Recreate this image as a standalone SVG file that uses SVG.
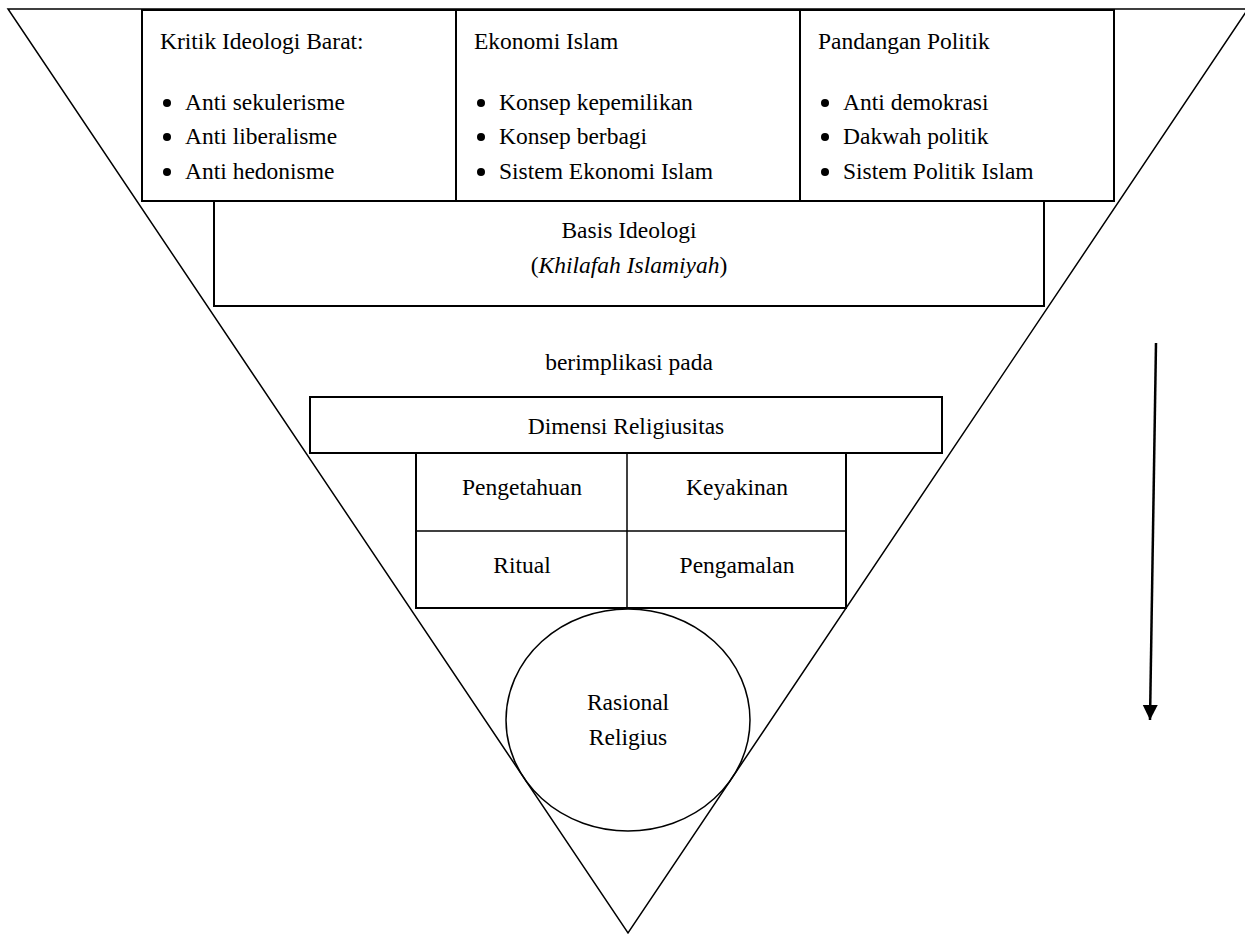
<svg xmlns="http://www.w3.org/2000/svg" width="1245" height="936" viewBox="0 0 1245 936">
<style>
text{font-family:"Liberation Serif","Times New Roman",serif;font-size:23.5px;fill:#000}
.c{text-anchor:middle}
.b{fill:#fff;stroke:#000;stroke-width:2}
.l{fill:none;stroke:#000;stroke-width:1.5}
.d{fill:#000}
</style>
<defs>
<marker id="ah" markerWidth="16" markerHeight="16" refX="15" refY="7.5" orient="auto" markerUnits="userSpaceOnUse" viewBox="0 0 16 16">
<path d="M0,0 L15,7.5 L0,15 Z" fill="#000"/>
</marker>
</defs>
<rect width="1245" height="936" fill="#fff"/>
<g id="triangle">
<polygon points="8,9 1248,9 628,933" class="l"/>
</g>
<g id="kritik">
<rect x="142" y="10" width="314" height="191" class="b"/>
<text x="160" y="49">Kritik Ideologi Barat:</text>
<circle cx="167" cy="103" r="4" class="d"/>
<circle cx="167" cy="137" r="4" class="d"/>
<circle cx="167" cy="172" r="4" class="d"/>
<text x="185" y="110">Anti sekulerisme</text>
<text x="185" y="144">Anti liberalisme</text>
<text x="185" y="179">Anti hedonisme</text>
</g>
<g id="ekonomi">
<rect x="456" y="10" width="344" height="191" class="b"/>
<text x="474" y="49">Ekonomi Islam</text>
<circle cx="481" cy="103" r="4" class="d"/>
<circle cx="481" cy="137" r="4" class="d"/>
<circle cx="481" cy="172" r="4" class="d"/>
<text x="499" y="110">Konsep kepemilikan</text>
<text x="499" y="144">Konsep berbagi</text>
<text x="499" y="179">Sistem Ekonomi Islam</text>
</g>
<g id="politik">
<rect x="800" y="10" width="314" height="191" class="b"/>
<text x="818" y="49">Pandangan Politik</text>
<circle cx="825" cy="103" r="4" class="d"/>
<circle cx="825" cy="137" r="4" class="d"/>
<circle cx="825" cy="172" r="4" class="d"/>
<text x="843" y="110">Anti demokrasi</text>
<text x="843" y="144">Dakwah politik</text>
<text x="843" y="179">Sistem Politik Islam</text>
</g>
<g id="basis">
<rect x="214" y="201" width="830" height="105" class="b"/>
<text x="629" y="238" class="c">Basis Ideologi</text>
<text x="629" y="273" class="c">(<tspan font-style="italic">Khilafah Islamiyah</tspan>)</text>
</g>
<g id="implikasi">
<text x="629" y="370" class="c">berimplikasi pada</text>
</g>
<g id="dimensi">
<rect x="310" y="397" width="632" height="56" class="b"/>
<text x="626" y="434" class="c">Dimensi Religiusitas</text>
</g>
<g id="grid">
<rect x="416" y="453" width="430" height="155" class="b"/>
<line x1="627" y1="453" x2="627" y2="608" class="l" stroke-width="2"/>
<line x1="416" y1="531" x2="846" y2="531" class="l" stroke-width="2"/>
<text x="522" y="495" class="c">Pengetahuan</text>
<text x="737" y="495" class="c">Keyakinan</text>
<text x="522" y="573" class="c">Ritual</text>
<text x="737" y="573" class="c">Pengamalan</text>
</g>
<g id="rasional">
<ellipse cx="628" cy="720" rx="122" ry="111" class="l" stroke-width="2" fill="none"/>
<text x="628" y="710" class="c">Rasional</text>
<text x="628" y="745" class="c">Religius</text>
</g>
<g id="connectors">
<line x1="1156" y1="343" x2="1150" y2="720" stroke="#000" stroke-width="2.5" marker-end="url(#ah)"/>
</g>
</svg>
